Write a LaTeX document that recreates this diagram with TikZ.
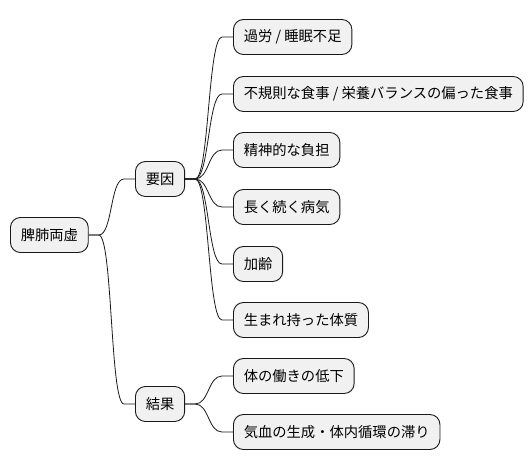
\documentclass[tikz,border=0pt]{standalone}
\usepackage{fontspec}
\setmainfont{Noto Sans CJK JP}
\usetikzlibrary{calc}
\begin{document}
\begin{tikzpicture}[x=1pt,y=-1pt,
  mm/.style={draw=black!90, fill=black!5.5, rounded corners=10pt, line width=0.9pt,
    minimum height=35pt, inner xsep=10.3pt, inner ysep=0pt, anchor=west,
    font=\fontsize{14.3pt}{16pt}\selectfont},
  conn/.style={line width=0.8pt, draw=black!90}]
\useasboundingbox (0,0) rectangle (530,471);
\node[mm] (root) at (10,235) {脾肺両虚};
\node[mm] (a) at (135,179) {要因};
\node[mm] (b) at (135,404) {結果};
\node[mm] (a1) at (233,37) {過労 / 睡眠不足};
\node[mm] (a2) at (233,94) {不規則な食事 / 栄養バランスの偏った食事};
\node[mm] (a3) at (233,150) {精神的な負担};
\node[mm] (a4) at (233,207) {長く続く病気};
\node[mm] (a5) at (233,264) {加齢};
\node[mm] (a6) at (233,320) {生まれ持った体質};
\node[mm] (b1) at (233,376) {体の働きの低下};
\node[mm] (b2) at (233,432) {気血の生成・体内循環の滞り};
\foreach \p/\c in {root/a, root/b, a/a1, a/a2, a/a3, a/a4, a/a5, a/a6, b/b1, b/b2}{
  \draw[conn] (\p.east) -- ++(10,0) coordinate (s)
    .. controls ($(s)+(14,0)$) and ($(\c.west)+(-25,0)$) .. ($(\c.west)+(-11,0)$) -- (\c.west);
}
\end{tikzpicture}
\end{document}
